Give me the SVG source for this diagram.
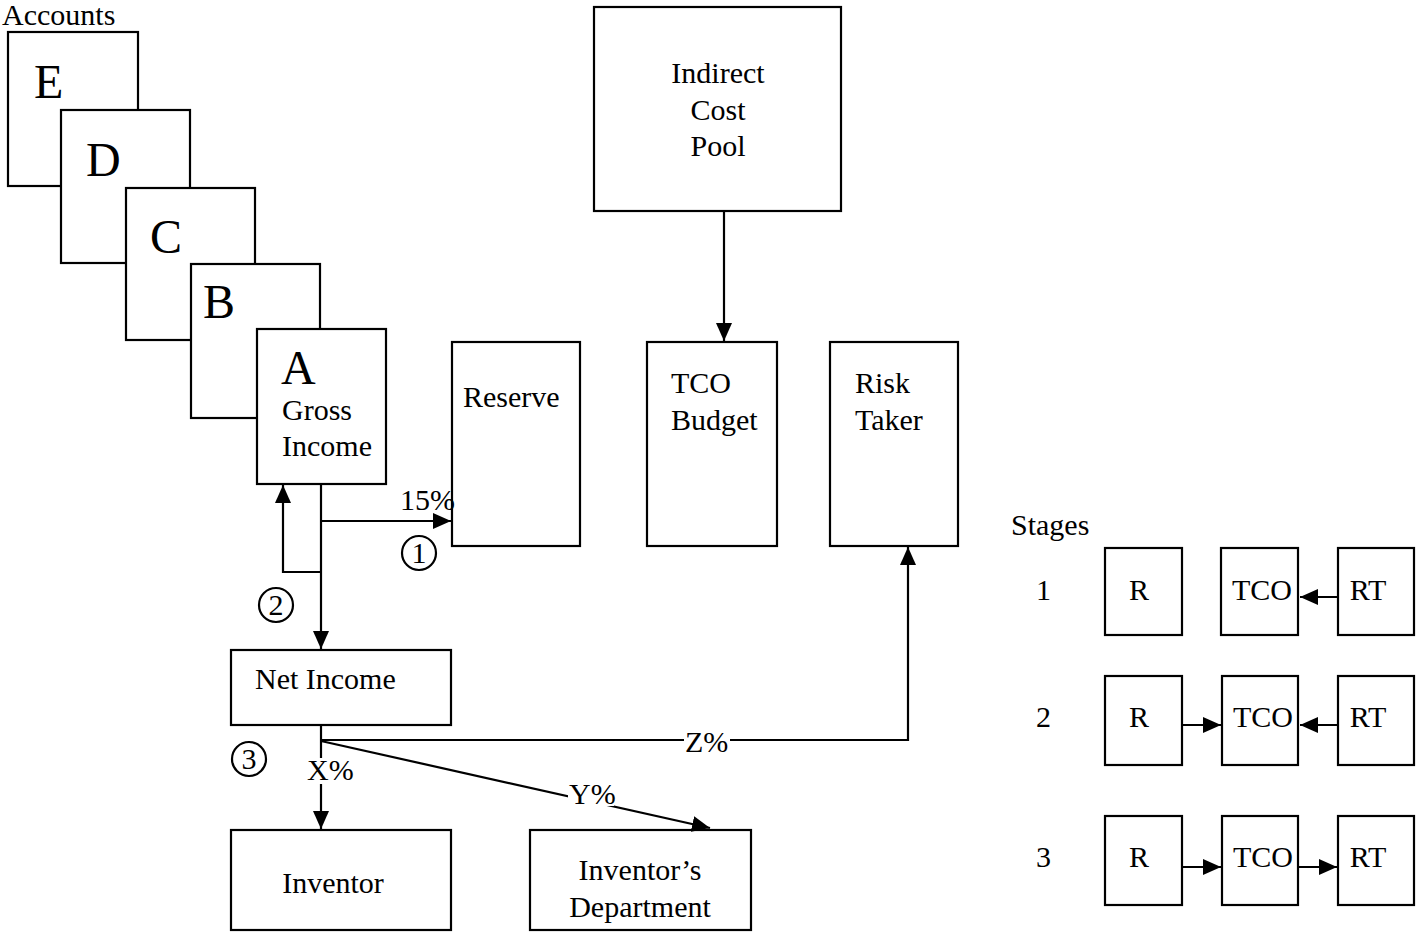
<svg xmlns="http://www.w3.org/2000/svg" width="1421" height="932" viewBox="0 0 1421 932">
<style>
.box{fill:#fff;stroke:#000;stroke-width:2.2}
.t{font-family:"Liberation Serif",serif;font-size:30px;fill:#000}
.big{font-family:"Liberation Serif",serif;font-size:48px;fill:#000}
.c{text-anchor:middle}
.ln{fill:none;stroke:#000;stroke-width:2.2}
.lab{fill:#fff;stroke:none}
</style>
<defs>
<marker id="ah" markerUnits="userSpaceOnUse" markerWidth="18" markerHeight="18" viewBox="0 0 18 18" refX="18" refY="9" orient="auto">
<path d="M0,1 L18,9 L0,17 Z" fill="#000"/>
</marker>
</defs>
<rect width="1421" height="932" fill="#fff"/>
<text class="t" x="2" y="25" font-size="25">Accounts</text>
<g id="E"><rect class="box" x="8" y="32" width="130" height="154"/><text class="big" x="34" y="98">E</text></g>
<g id="D"><rect class="box" x="61" y="110" width="129" height="153"/><text class="big" x="86" y="176">D</text></g>
<g id="C"><rect class="box" x="126" y="188" width="129" height="152"/><text class="big" x="150" y="253">C</text></g>
<g id="B"><rect class="box" x="191" y="264" width="129" height="154"/><text class="big" x="203" y="318">B</text></g>
<g id="A"><rect class="box" x="257" y="329" width="129" height="155"/><text class="big" x="281" y="384">A</text><text class="t" x="282" y="420">Gross</text><text class="t" x="282" y="456">Income</text></g>
<g id="reserve"><rect class="box" x="452" y="342" width="128" height="204"/><text class="t" x="463" y="407">Reserve</text></g>
<g id="tco"><rect class="box" x="647" y="342" width="130" height="204"/><text class="t" x="671" y="393">TCO</text><text class="t" x="671" y="430">Budget</text></g>
<g id="risk"><rect class="box" x="830" y="342" width="128" height="204"/><text class="t" x="855" y="393">Risk</text><text class="t" x="855" y="430">Taker</text></g>
<g id="pool"><rect class="box" x="594" y="7" width="247" height="204"/><text class="t c" x="718" y="83">Indirect</text><text class="t c" x="718" y="120">Cost</text><text class="t c" x="718" y="156">Pool</text></g>
<g id="net"><rect class="box" x="231" y="650" width="220" height="75"/><text class="t" x="255" y="689">Net Income</text></g>
<g id="inventor"><rect class="box" x="231" y="830" width="220" height="100"/><text class="t c" x="333" y="893">Inventor</text></g>
<g id="dept"><rect class="box" x="530" y="830" width="221" height="100"/><text class="t c" x="640" y="880">Inventor’s</text><text class="t c" x="640" y="917">Department</text></g>
<g id="connectors">
<path class="ln" d="M724,211 V341" marker-end="url(#ah)"/>
<path class="ln" d="M321,484 V649" marker-end="url(#ah)"/>
<path class="ln" d="M321,521 H451" marker-end="url(#ah)"/>
<path class="ln" d="M321,572 H283 V485" marker-end="url(#ah)"/>
<path class="ln" d="M321,725 V829" marker-end="url(#ah)"/>
<path class="ln" d="M321,740 H908 V547" marker-end="url(#ah)"/>
<path class="ln" d="M321,741 L710,828" marker-end="url(#ah)"/>
</g>
<g id="labels">
<text class="t" x="400" y="510">15%</text>
<rect class="lab" x="306" y="758" width="50" height="26"/>
<text class="t" x="307" y="780">X%</text>
<rect class="lab" x="684" y="730" width="46" height="24"/>
<text class="t" x="685" y="752">Z%</text>
<rect class="lab" x="568" y="782" width="46" height="24"/>
<text class="t" x="569" y="804">Y%</text>
<circle cx="419" cy="553" r="17" class="ln"/><text class="t c" x="419" y="563">1</text>
<circle cx="276" cy="605" r="17" class="ln"/><text class="t c" x="276" y="615">2</text>
<circle cx="249" cy="759" r="17" class="ln"/><text class="t c" x="249" y="769">3</text>
</g>
<g id="stages">
<text class="t" x="1011" y="535">Stages</text>
<text class="t" x="1036" y="600">1</text>
<text class="t" x="1036" y="727">2</text>
<text class="t" x="1036" y="867">3</text>
</g>
<g id="s1r"><rect class="box" x="1105" y="548" width="77" height="87"/><text class="t c" x="1139" y="600">R</text></g>
<g id="s1t"><rect class="box" x="1221" y="548" width="77" height="87"/><text class="t c" x="1262" y="600">TCO</text></g>
<g id="s1rt"><rect class="box" x="1338" y="548" width="76" height="87"/><text class="t c" x="1368" y="600">RT</text></g>
<g id="s2r"><rect class="box" x="1105" y="676" width="77" height="89"/><text class="t c" x="1139" y="727">R</text></g>
<g id="s2t"><rect class="box" x="1222" y="676" width="76" height="89"/><text class="t c" x="1263" y="727">TCO</text></g>
<g id="s2rt"><rect class="box" x="1338" y="676" width="76" height="89"/><text class="t c" x="1368" y="727">RT</text></g>
<g id="s3r"><rect class="box" x="1105" y="816" width="77" height="89"/><text class="t c" x="1139" y="867">R</text></g>
<g id="s3t"><rect class="box" x="1222" y="816" width="76" height="89"/><text class="t c" x="1263" y="867">TCO</text></g>
<g id="s3rt"><rect class="box" x="1338" y="816" width="76" height="89"/><text class="t c" x="1368" y="867">RT</text></g>
<g id="stage-connectors">
<path class="ln" d="M1337,597 H1300" marker-end="url(#ah)"/>
<path class="ln" d="M1182,725 H1221" marker-end="url(#ah)"/>
<path class="ln" d="M1337,725 H1300" marker-end="url(#ah)"/>
<path class="ln" d="M1182,867 H1221" marker-end="url(#ah)"/>
<path class="ln" d="M1298,867 H1337" marker-end="url(#ah)"/>
</g>
</svg>
